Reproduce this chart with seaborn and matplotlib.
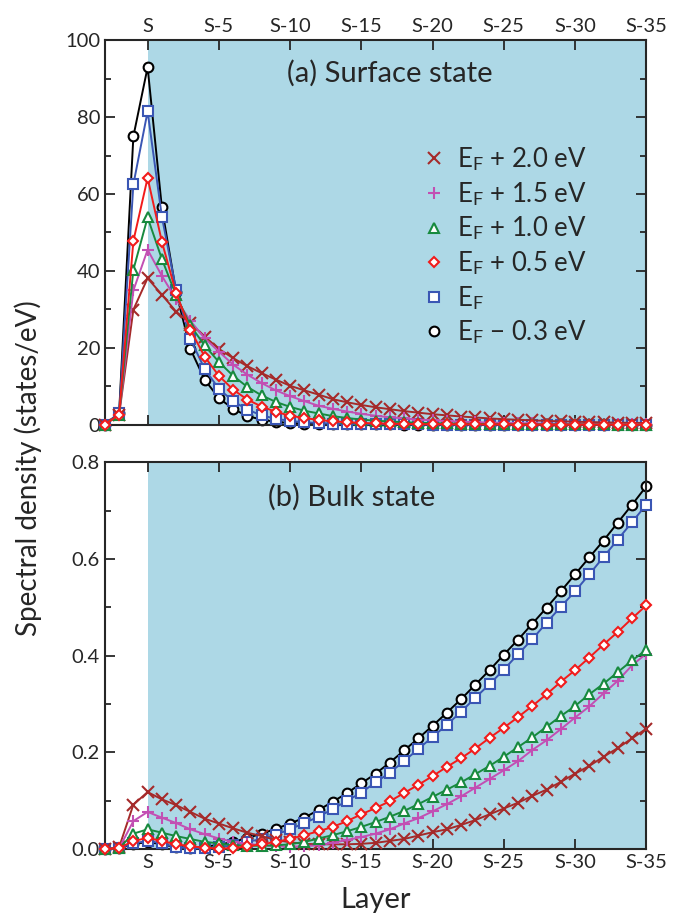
import numpy as np
import pandas as pd
import seaborn as sns
import matplotlib.pyplot as plt
from matplotlib.lines import Line2D
from matplotlib.ticker import MultipleLocator

# Datos: capa -3 .. 35 (S = capa 0)
layers = list(range(-3, 36))
layer_ticks = [0, 5, 10, 15, 20, 25, 30, 35]
layer_labels = ["S", "S-5", "S-10", "S-15", "S-20", "S-25", "S-30", "S-35"]

series_labels = ["E$_\\mathrm{F}$ + 2.0 eV", "E$_\\mathrm{F}$ + 1.5 eV", "E$_\\mathrm{F}$ + 1.0 eV",
                 "E$_\\mathrm{F}$ + 0.5 eV", "E$_\\mathrm{F}$", "E$_\\mathrm{F}$ \u2212 0.3 eV"]

# (a) estado de superficie
surf_p20 = [0, 2.6, 29.9, 38.1, 33.8, 29.4, 26.4, 22.9, 19.7, 17.3, 15.2, 13.4, 11.7, 10.1, 8.9, 7.8,
            6.6, 5.8, 5.1, 4.5, 4.0, 3.5, 3.1, 2.7, 2.4, 2.1, 1.85, 1.6, 1.4, 1.25, 1.1, 0.95,
            0.85, 0.75, 0.65, 0.57, 0.5, 0.45, 0.4]
surf_p15 = [0, 2.6, 34.9, 45.5, 38.7, 32.6, 27.0, 22.5, 19.0, 15.6, 13.0, 10.8, 8.9, 7.4, 6.1, 4.9,
            4.1, 3.4, 2.8, 2.3, 1.9, 1.6, 1.3, 1.1, 0.9, 0.75, 0.62, 0.5, 0.42, 0.35, 0.29, 0.24,
            0.2, 0.17, 0.14, 0.12, 0.1, 0.08, 0.07]
surf_p10 = [0, 2.6, 40.3, 53.9, 43.1, 33.6, 25.8, 20.6, 16.3, 12.7, 9.8, 7.6, 5.9, 4.6, 3.6, 2.9,
            2.2, 1.7, 1.3, 1.0, 0.8, 0.6, 0.47, 0.37, 0.29, 0.22, 0.17, 0.13, 0.1, 0.08, 0.06,
            0.05, 0.04, 0.03, 0.02, 0.02, 0.01, 0.01, 0.01]
surf_p05 = [0, 2.6, 47.8, 64.2, 47.6, 34.2, 24.7, 17.7, 12.7, 9.1, 6.5, 4.7, 3.3, 2.3, 1.7, 1.2,
            0.85, 0.6, 0.43, 0.3, 0.22, 0.16, 0.11, 0.08, 0.06, 0.04, 0.03, 0.02, 0.02, 0.01,
            0.01, 0.01, 0, 0, 0, 0, 0, 0, 0]
surf_ef = [0, 3.0, 62.5, 81.5, 54.1, 35.1, 22.3, 14.5, 9.3, 6.1, 3.9, 2.4, 1.5, 0.95, 0.6, 0.4,
           0.25, 0.16, 0.1, 0.07, 0.05, 0.03, 0.02, 0.01, 0.01, 0, 0, 0, 0, 0, 0, 0, 0, 0, 0,
           0, 0, 0, 0]
surf_m03 = [0, 3.0, 75.0, 93.0, 56.5, 34.5, 19.7, 11.7, 6.9, 4.1, 2.2, 1.3, 0.7, 0.4, 0.25, 0.15,
            0.1, 0.06, 0.04, 0.03, 0.02, 0.01, 0.01, 0, 0, 0, 0, 0, 0, 0, 0, 0, 0, 0, 0, 0, 0,
            0, 0]

# (b) estado de volumen
bulk_p20 = [0, 0.004, 0.092, 0.118, 0.103, 0.091, 0.077, 0.063, 0.053, 0.043, 0.034, 0.027, 0.019,
            0.014, 0.011, 0.010, 0.010, 0.010, 0.011, 0.013, 0.017, 0.021, 0.028, 0.035, 0.041,
            0.050, 0.060, 0.072, 0.084, 0.096, 0.110, 0.123, 0.139, 0.156, 0.172, 0.191, 0.209,
            0.229, 0.249]
bulk_p15 = [0, 0.002, 0.058, 0.077, 0.065, 0.054, 0.041, 0.031, 0.022, 0.015, 0.011, 0.008, 0.006,
            0.005, 0.006, 0.008, 0.013, 0.019, 0.025, 0.032, 0.041, 0.053, 0.064, 0.078, 0.093,
            0.109, 0.127, 0.145, 0.163, 0.182, 0.205, 0.225, 0.248, 0.272, 0.295, 0.322, 0.348,
            0.380, 0.404]
bulk_p10 = [0, 0.002, 0.032, 0.041, 0.034, 0.027, 0.021, 0.015, 0.012, 0.008, 0.007, 0.007, 0.008,
            0.010, 0.015, 0.022, 0.029, 0.037, 0.046, 0.056, 0.067, 0.079, 0.093, 0.108, 0.123,
            0.138, 0.155, 0.172, 0.191, 0.211, 0.231, 0.253, 0.275, 0.296, 0.320, 0.342, 0.366,
            0.390, 0.412]
bulk_p05 = [0, 0.002, 0.017, 0.023, 0.017, 0.010, 0.006, 0.003, 0.001, 0.002, 0.006, 0.010, 0.015,
            0.021, 0.029, 0.037, 0.046, 0.058, 0.072, 0.085, 0.099, 0.116, 0.133, 0.151, 0.170,
            0.188, 0.208, 0.230, 0.251, 0.273, 0.296, 0.320, 0.346, 0.370, 0.396, 0.423, 0.449,
            0.477, 0.504]
bulk_ef = [0, 0.002, 0.012, 0.017, 0.012, 0.004, 0.002, 0.002, 0.004, 0.008, 0.015, 0.021, 0.030,
           0.041, 0.054, 0.067, 0.083, 0.100, 0.117, 0.138, 0.158, 0.182, 0.207, 0.232, 0.257,
           0.284, 0.313, 0.341, 0.371, 0.403, 0.434, 0.468, 0.501, 0.533, 0.568, 0.604, 0.640,
           0.676, 0.712]
bulk_m03 = [0, 0.002, 0.010, 0.015, 0.010, 0.004, 0.003, 0.005, 0.009, 0.015, 0.023, 0.032, 0.042,
            0.053, 0.065, 0.081, 0.098, 0.116, 0.136, 0.156, 0.179, 0.204, 0.229, 0.255, 0.282,
            0.310, 0.340, 0.370, 0.402, 0.433, 0.466, 0.499, 0.533, 0.568, 0.603, 0.638, 0.675,
            0.712, 0.750]

colores = ["#a52a2a", "#c24fb3", "#178a3e", "#f21b1b", "#3a56b4", "black"]
marcadores = ["x", "+", "^", "D", "s", "o"]
tamanos = [8, 9, 7.5, 5, 7, 7]
orden_z = [4, 5, 6, 7, 3, 2]

sns.set_style("ticks")
plt.rcParams["font.family"] = ["Lato", "DejaVu Sans"]
plt.rcParams["mathtext.fontset"] = "custom"
plt.rcParams["mathtext.rm"] = "Lato"
plt.rcParams["mathtext.sf"] = "Lato"
plt.rcParams["mathtext.it"] = "Lato:italic"

fig = plt.figure(figsize=(6.81, 9.17), dpi=100)
ax_a = fig.add_axes([0.154, 0.537, 0.795, 0.419])
ax_b = fig.add_axes([0.154, 0.074, 0.795, 0.422])

paneles = [
    (ax_a, [surf_p20, surf_p15, surf_p10, surf_p05, surf_ef, surf_m03], (0, 100), 20, 10, "(a) Surface state", (0.527, 0.915)),
    (ax_b, [bulk_p20, bulk_p15, bulk_p10, bulk_p05, bulk_ef, bulk_m03], (0, 0.8), 0.2, 0.1, "(b) Bulk state", (0.456, 0.91)),
]

for ax, datos, ylim, mayor, menor, titulo, pos in paneles:
    ax.axvspan(0, 35, color="#add8e6", zorder=0, lw=0)
    for vals, c, m, ms, z in zip(datos, colores, marcadores, tamanos, orden_z):
        sns.lineplot(x=layers, y=vals, ax=ax, color=c, marker=m, markersize=ms,
                     markerfacecolor="white", markeredgecolor=c, markeredgewidth=1.5,
                     linewidth=1.4, clip_on=False, zorder=z, errorbar=None, legend=False)
    ax.set_xlim(-3, 35)
    ax.set_ylim(*ylim)
    ax.set_xticks(layer_ticks)
    ax.yaxis.set_major_locator(MultipleLocator(mayor))
    ax.yaxis.set_minor_locator(MultipleLocator(menor))
    ax.tick_params(which="both", direction="in", top=True, right=True, width=1.3, labelsize=14.5)
    ax.tick_params(which="major", length=7)
    ax.tick_params(which="minor", length=4)
    for s in ax.spines.values():
        s.set_linewidth(1.5)
    ax.set_xlabel("")
    ax.set_ylabel("")
    ax.text(pos[0], pos[1], titulo, transform=ax.transAxes, ha="center", va="center", fontsize=21)

ax_a.set_xticklabels(layer_labels)
ax_a.tick_params(axis="x", labeltop=True, labelbottom=False)
ax_a.set_yticks([0, 20, 40, 60, 80, 100])
ax_b.set_xticklabels(layer_labels)
ax_b.yaxis.set_major_formatter(plt.FormatStrFormatter("%.1f"))

handles = [Line2D([], [], linestyle="none", marker=m, markersize=ms, color=c,
                  markerfacecolor="white", markeredgecolor=c, markeredgewidth=1.5)
           for c, m, ms in zip(colores, marcadores, tamanos)]
ax_a.legend(handles, series_labels, loc="upper left", bbox_to_anchor=(0.565, 0.76),
            frameon=False, fontsize=18.5, handlelength=0.8, handletextpad=0.5,
            labelspacing=0.26, borderpad=0)

fig.text(0.042, 0.49, "Spectral density (states/eV)", rotation=90, ha="center", va="center", fontsize=20)
fig.text(0.552, 0.018, "Layer", ha="center", va="center", fontsize=21)

fig.savefig("out.png", dpi=100)
